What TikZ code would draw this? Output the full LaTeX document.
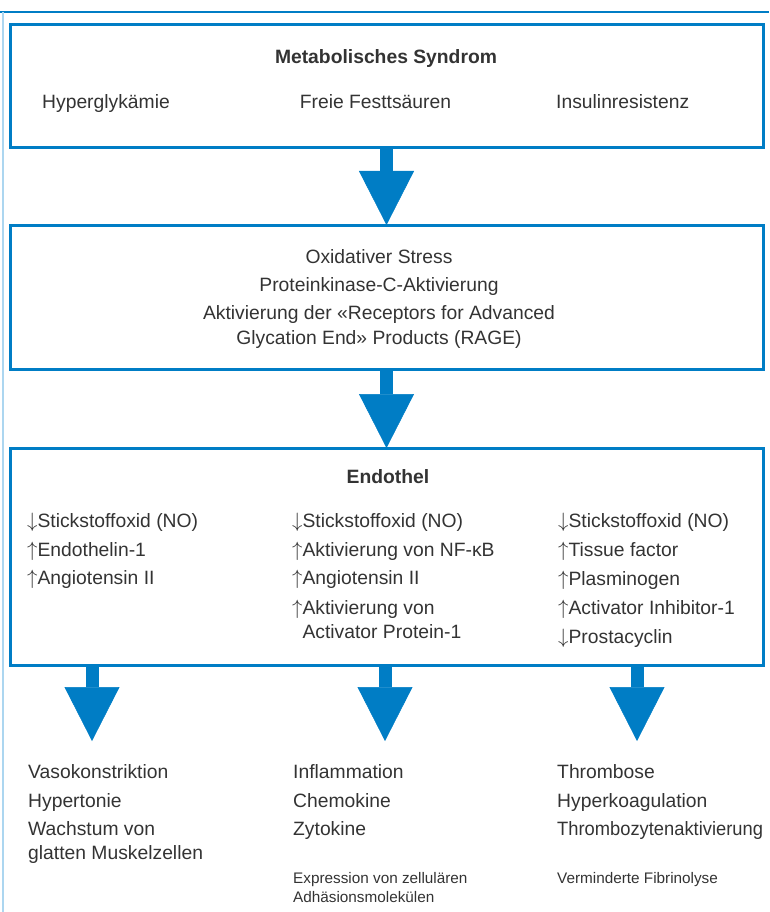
\documentclass[tikz,border=0pt]{standalone}
\usepackage{fontspec}
\setmainfont{Liberation Sans}
\usepackage{graphicx}
\usetikzlibrary{arrows.meta,positioning}

\definecolor{boxblue}{RGB}{0,125,197}
\definecolor{paleblue}{RGB}{172,214,240}
\definecolor{textgray}{RGB}{51,51,51}

\newcommand{\up}{$\uparrow$}
\newcommand{\down}{$\downarrow$}

\begin{document}
\begin{tikzpicture}[
  x=1pt, y=-1pt,
  box/.style={rectangle, draw=boxblue, line width=3pt, outer sep=0pt,
    minimum width=753pt},
  heading/.style={font=\fontsize{19.3}{23}\selectfont\bfseries,
    text=textgray, inner sep=0pt, anchor=base},
  entry/.style={font=\fontsize{19.3}{23}\selectfont, text=textgray,
    inner sep=0pt, anchor=base west},
  centry/.style={entry, anchor=base},
  note/.style={entry, font=\fontsize{15.3}{18}\selectfont},
  flow/.style={boxblue, line width=13pt,
    -{Triangle[width=55pt, length=54pt, line width=0.5pt]}},
]
  \useasboundingbox (0,0) rectangle (769,912);

  % page frame
  \draw[boxblue, line width=1.4pt] (0,12) -- (769,12);
  \draw[paleblue, line width=2.5pt] (3,12) -- (3,912);

  % boxes
  \node[box, minimum height=123pt] (meta) at (386.5,86.5) {};
  \node[box, minimum height=144pt, below=77pt of meta] (stress) {};
  \node[box, minimum height=217pt, below=79pt of stress] (endo) {};

  % Metabolisches Syndrom
  \node[heading] (metatitle) at (386,64) {Metabolisches Syndrom};
  \node[entry] (hyperglyk) at (42,109) {Hyperglykämie};
  \node[centry] (fettsaeuren) at (375.5,109) {Freie Festtsäuren};
  \node[entry] (insulin) at (556,109) {Insulinresistenz};

  % Mechanismen
  \node[centry] (oxstress) at (379,263) {Oxidativer Stress};
  \node[centry] (pkc) at (379,291) {Proteinkinase-C-Aktivierung};
  \node[centry] (rage1) at (379,319) {Aktivierung der «Receptors for Advanced};
  \node[centry] (rage2) at (379,344) {Glycation End» Products (RAGE)};

  % Endothel
  \node[heading] (endotitle) at (388,483) {Endothel};

  \node[entry] (vaso1) at (27,527) {\down Stickstoffoxid (NO)};
  \node[entry] (vaso2) at (27,556) {\up Endothelin-1};
  \node[entry] (vaso3) at (27,584) {\up Angiotensin II};

  \node[entry] (infl1) at (292,527) {\down Stickstoffoxid (NO)};
  \node[entry] (infl2) at (292,556) {\up Aktivierung von NF-κB};
  \node[entry] (infl3) at (292,584) {\up Angiotensin II};
  \node[entry] (infl4) at (292,614) {\up Aktivierung von};
  \node[entry] (infl5) at (292,638) {\phantom{\up}Activator Protein-1};

  \node[entry] (throm1) at (558,527) {\down Stickstoffoxid (NO)};
  \node[entry] (throm2) at (558,556) {\up Tissue factor};
  \node[entry] (throm3) at (558,585) {\up Plasminogen};
  \node[entry] (throm4) at (558,614) {\up Activator Inhibitor-1};
  \node[entry] (throm5) at (558,643) {\down Prostacyclin};

  % Folgen
  \node[entry] (res1a) at (28,778) {Vasokonstriktion};
  \node[entry] (res1b) at (28,807) {Hypertonie};
  \node[entry] (res1c) at (28,835) {Wachstum von};
  \node[entry] (res1d) at (28,859) {glatten Muskelzellen};

  \node[entry] (res2a) at (293,778) {Inflammation};
  \node[entry] (res2b) at (293,807) {Chemokine};
  \node[entry] (res2c) at (293,835) {Zytokine};
  \node[note] (res2d) at (293,883) {Expression von zellulären};
  \node[note] (res2e) at (293,902) {Adhäsionsmolekülen};

  \node[entry] (res3a) at (557,778) {Thrombose};
  \node[entry] (res3b) at (557,807) {Hyperkoagulation};
  \node[entry] (res3c) at (557,835) {\scalebox{0.95}[1]{Thrombozytenaktivierung}};
  \node[note] (res3d) at (557,883) {Verminderte Fibrinolyse};

  % Pfeile
  \coordinate (tip1) at (92,741);
  \coordinate (tip2) at (385,741);
  \coordinate (tip3) at (637,741);

  \draw[flow] (meta.south) -- (stress.north);
  \draw[flow] (stress.south) -- (endo.north);
  \draw[flow] (endo.south -| tip1) -- (tip1);
  \draw[flow] (endo.south -| tip2) -- (tip2);
  \draw[flow] (endo.south -| tip3) -- (tip3);
\end{tikzpicture}
\end{document}
